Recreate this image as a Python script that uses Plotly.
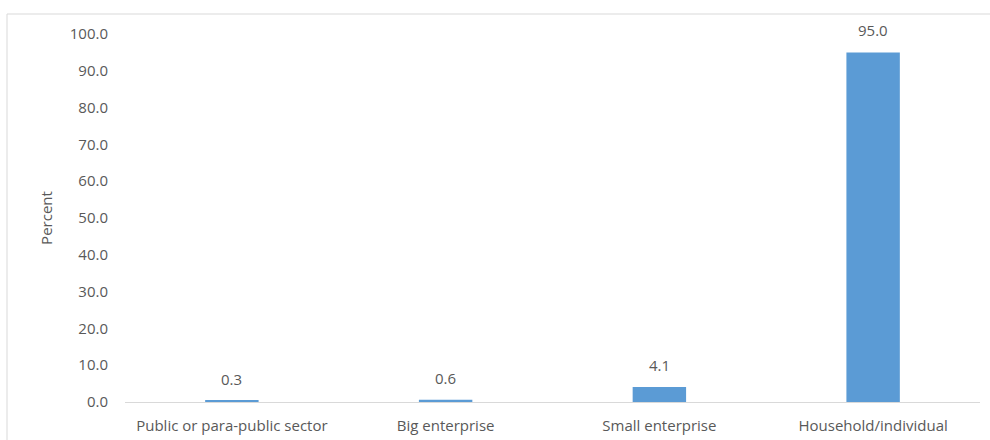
import plotly.graph_objects as go

categories = ["Public or para-public sector", "Big enterprise", "Small enterprise", "Household/individual"]
values = [0.3, 0.6, 4.1, 95.0]
value_labels = ["0.3", "0.6", "4.1", "95.0"]

W, H = 990, 440
ml, mr, mt, mb = 125, 10, 34, 38
pw = W - ml - mr
ph = H - mt - mb

font_family = "'Open Sans', sans-serif"
grey = "#595959"
fs = 15

fig = go.Figure(go.Bar(
    x=categories, y=values,
    marker=dict(color="#5b9bd5", line=dict(width=0)),
    cliponaxis=False,
))

for c, v, t in zip(categories, values, value_labels):
    fig.add_annotation(x=c, y=v, text=t, showarrow=False, yanchor="bottom", yshift=10,
                       font=dict(size=fs, color=grey, family=font_family))

# outer chart border (in paper coords, derived from pixel positions)
bx0 = (7 - ml) / pw
by1 = (H - mb - 14) / ph
bx1 = (W + 5 - ml) / pw
by0 = -(mb + 5) / ph
fig.add_shape(type="rect", xref="paper", yref="paper", x0=bx0, x1=bx1, y0=by0, y1=by1,
              line=dict(color="#d9d9d9", width=1), layer="below")

fig.update_layout(
    width=W, height=H,
    margin=dict(l=ml, r=mr, t=mt, b=mb, autoexpand=False),
    paper_bgcolor="white", plot_bgcolor="white",
    bargap=0.75,
    showlegend=False,
    font=dict(family=font_family, color=grey, size=fs),
    xaxis=dict(showline=True, linecolor="#d9d9d9", linewidth=1, ticks="", showgrid=False,
               tickfont=dict(size=fs, color=grey), zeroline=False, ticklabelstandoff=10,
               automargin=False),
    yaxis=dict(range=[0, 100], dtick=10, tickformat=".1f", showgrid=False, zeroline=False,
               showline=False, ticks="", tickfont=dict(size=fs, color=grey),
               ticklabelstandoff=16, automargin=False,
               title=dict(text="Percent", font=dict(size=fs, color=grey), standoff=13)),
)

fig.write_html("out.html")
